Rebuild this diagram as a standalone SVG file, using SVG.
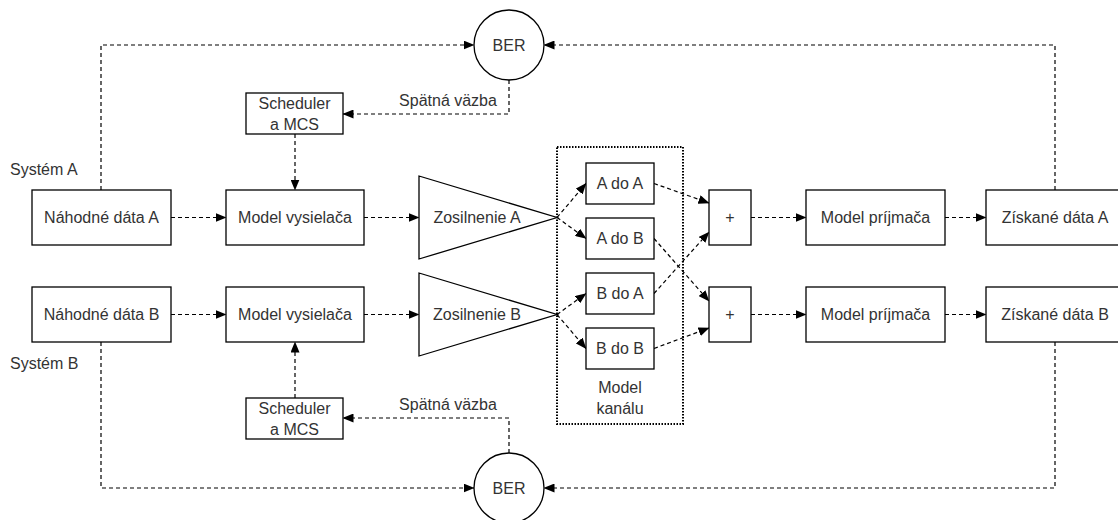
<svg xmlns="http://www.w3.org/2000/svg" width="1118" height="520" viewBox="0 0 1118 520">
<defs>
<marker id="ah" markerUnits="userSpaceOnUse" markerWidth="11" markerHeight="9" refX="10.5" refY="4.5" orient="auto">
<path d="M0,0 L11,4.5 L0,9 z" fill="#000"/>
</marker>
<style>
.box{fill:#fff;stroke:#000;stroke-width:1.3}
.t{font-family:"Liberation Sans",Arial,sans-serif;font-size:16px;fill:#333;text-anchor:middle}
.tl{font-family:"Liberation Sans",Arial,sans-serif;font-size:16px;fill:#333}
.c{fill:none;stroke:#000;stroke-width:1.2;stroke-dasharray:4 3;marker-end:url(#ah)}
.cn{fill:none;stroke:#000;stroke-width:1.2;stroke-dasharray:4 3}
.dot{fill:none;stroke:#000;stroke-width:2;stroke-dasharray:1.5 1.5}
</style>
</defs>
<rect width="1118" height="520" fill="#fff"/>

<g id="connectors">
<path class="c" d="M171,217.5 H226"/>
<path class="c" d="M364,217.5 H419"/>
<path class="c" d="M171,314.5 H226"/>
<path class="c" d="M364,314.5 H419"/>
<path class="c" d="M557,217.5 L586,183.5"/>
<path class="c" d="M557,217.5 L586,238.5"/>
<path class="c" d="M557,314.5 L586,293.5"/>
<path class="c" d="M557,314.5 L586,348.5"/>
<path class="c" d="M654,183.5 L709,203"/>
<path class="c" d="M654,293.5 L709,232"/>
<path class="c" d="M654,238.5 L709,301"/>
<path class="c" d="M654,348.5 L709,328"/>
<path class="c" d="M751,217.5 H806"/>
<path class="c" d="M945,217.5 H986"/>
<path class="c" d="M751,314.5 H806"/>
<path class="c" d="M945,314.5 H986"/>
<path class="c" d="M101,190 V45 H474"/>
<path class="c" d="M1055,190 V45 H544"/>
<path class="c" d="M509,80 V114 H343"/>
<path class="c" d="M295,134 V190"/>
<path class="c" d="M101,342 V488 H474"/>
<path class="c" d="M1055,342 V488 H544"/>
<path class="c" d="M509,453 V418 H343"/>
<path class="c" d="M295,398 V342"/>
</g>

<g id="label-feedback-a"><text class="t" x="448" y="106">Spätná väzba</text></g>
<g id="label-feedback-b"><text class="t" x="448" y="410">Spätná väzba</text></g>
<g id="label-system-a"><text class="tl" x="10" y="175">Systém A</text></g>
<g id="label-system-b"><text class="tl" x="10" y="369">Systém B</text></g>

<g id="ber-a"><circle class="box" cx="509" cy="45" r="35"/><text class="t" x="509" y="51">BER</text></g>
<g id="ber-b"><circle class="box" cx="509" cy="488" r="35"/><text class="t" x="509" y="494">BER</text></g>

<g id="scheduler-a"><rect class="box" x="246" y="93" width="97" height="41"/><text class="t" x="294.5" y="109">Scheduler</text><text class="t" x="294.5" y="130">a MCS</text></g>
<g id="scheduler-b"><rect class="box" x="246" y="398" width="97" height="41"/><text class="t" x="294.5" y="414">Scheduler</text><text class="t" x="294.5" y="435">a MCS</text></g>

<g id="data-a"><rect class="box" x="32" y="190" width="139" height="55"/><text class="t" x="101.5" y="223">Náhodné dáta A</text></g>
<g id="data-b"><rect class="box" x="32" y="287" width="139" height="55"/><text class="t" x="101.5" y="320">Náhodné dáta B</text></g>

<g id="tx-a"><rect class="box" x="226" y="190" width="138" height="55"/><text class="t" x="295" y="223">Model vysielača</text></g>
<g id="tx-b"><rect class="box" x="226" y="287" width="138" height="55"/><text class="t" x="295" y="320">Model vysielača</text></g>

<g id="amp-a"><path class="box" d="M419,176 L557,217.5 L419,259 z"/><text class="t" x="477" y="223">Zosilnenie A</text></g>
<g id="amp-b"><path class="box" d="M419,273 L557,314.5 L419,356 z"/><text class="t" x="477" y="320">Zosilnenie B</text></g>

<g id="channel"><rect class="dot" x="557" y="147" width="126" height="277"/><text class="t" x="620" y="393">Model</text><text class="t" x="620" y="414">kanálu</text></g>

<g id="a-to-a"><rect class="box" x="586" y="163" width="68" height="41"/><text class="t" x="620" y="189">A do A</text></g>
<g id="a-to-b"><rect class="box" x="586" y="218" width="68" height="41"/><text class="t" x="620" y="244">A do B</text></g>
<g id="b-to-a"><rect class="box" x="586" y="273" width="68" height="41"/><text class="t" x="620" y="299">B do A</text></g>
<g id="b-to-b"><rect class="box" x="586" y="328" width="68" height="41"/><text class="t" x="620" y="354">B do B</text></g>

<g id="sum-a"><rect class="box" x="709" y="190" width="42" height="55"/><text class="t" x="730" y="223">+</text></g>
<g id="sum-b"><rect class="box" x="709" y="287" width="42" height="55"/><text class="t" x="730" y="320">+</text></g>

<g id="rx-a"><rect class="box" x="806" y="190" width="139" height="55"/><text class="t" x="875.5" y="223">Model príjmača</text></g>
<g id="rx-b"><rect class="box" x="806" y="287" width="139" height="55"/><text class="t" x="875.5" y="320">Model príjmača</text></g>

<g id="out-a"><rect class="box" x="986" y="190" width="140" height="55"/><text class="t" x="1055" y="223">Získané dáta A</text></g>
<g id="out-b"><rect class="box" x="986" y="287" width="140" height="55"/><text class="t" x="1055" y="320">Získané dáta B</text></g>
</svg>
